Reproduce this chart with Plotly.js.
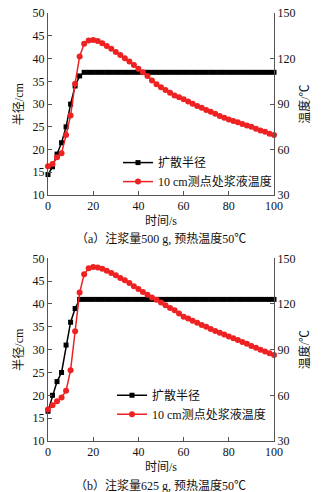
<!DOCTYPE html>
<html>
<head>
<meta charset="utf-8">
<script src="https://cdn.plot.ly/plotly-3.0.1.min.js"></script>
<style>html,body{margin:0;padding:0;background:#fff;}#chart{width:321px;height:492px;}</style>
</head>
<body>
<div id="chart"></div>
<script>
var time = [0,2,4,6,8,10,12,14,16,18,20,22,24,26,28,30,32,34,36,38,40,42,44,46,48,50,52,54,56,58,60,62,64,66,68,70,72,74,76,78,80,82,84,86,88,90,92,94,96,98,100];

// (a) 500 g
var radiusA = [14.5,16.2,19.0,21.5,25.0,30.0,34.0,36.2,37.0,37,37,37,37,37,37,37,37,37,37,37,37,37,37,37,37,37,37,37,37,37,37,37,37,37,37,37,37,37,37,37,37,37,37,37,37,37,37,37,37,37,37];
var tempA = [48.9,50.4,54.9,57.6,69.6,82.5,103.5,121.5,129.9,132.0,132.3,131.7,130.2,128.4,126.6,124.5,122.4,120.3,118.2,115.8,113.4,111.0,108.6,105.6,103.2,101.1,99.3,97.5,95.7,94.5,93.3,91.8,90.3,88.8,87.6,86.1,84.9,83.7,82.2,81.0,79.8,78.9,78.0,76.8,75.9,75.0,73.8,72.6,71.7,70.5,69.6];

// (b) 625 g
var radiusB = [16.5,20.0,23.0,25.0,31.0,36.0,39.0,41.0,41,41,41,41,41,41,41,41,41,41,41,41,41,41,41,41,41,41,41,41,41,41,41,41,41,41,41,41,41,41,41,41,41,41,41,41,41,41,41,41,41,41,41];
var tempB = [50.7,53.4,56.1,58.5,63.0,76.5,102.0,127.5,139.5,143.4,144.3,144.0,143.1,141.9,140.4,138.9,137.1,135.6,133.8,131.7,129.9,127.8,126.0,124.2,122.7,120.9,119.1,117.3,115.8,113.7,111.6,110.4,108.9,107.7,106.2,105.0,103.5,102.3,101.1,99.9,98.7,97.5,96.3,95.1,93.9,92.4,91.2,90.0,88.8,87.6,86.4];

var seriesNames = ['扩散半径', '10 cm测点处浆液温度'];
var xTicks = [0,20,40,60,80,100];
var captions = ['（a）注浆量500 g, 预热温度50℃', '（b）注浆量625 g, 预热温度50℃'];

var FONT = 'Liberation Serif, Times New Roman, Noto Sans CJK SC, serif';
var AXC = '#555';

function radTrace(y, xa, ya, leg, show) {
  return {x: time, y: y, xaxis: xa, yaxis: ya, name: seriesNames[0], legend: leg, showlegend: show,
    mode: 'lines+markers', cliponaxis: false,
    line: {color: '#000', width: 1.5}, marker: {symbol: 'square', size: 5, color: '#000'}};
}
function tmpTrace(y, xa, ya, leg, show) {
  return {x: time, y: y, xaxis: xa, yaxis: ya, name: seriesNames[1], legend: leg, showlegend: show,
    mode: 'lines+markers', cliponaxis: false,
    line: {color: '#ee2222', width: 1.5}, marker: {symbol: 'circle', size: 6, color: '#ee2222'}};
}

var data = [
  radTrace(radiusA, 'x', 'y', 'legend', true),
  tmpTrace(tempA, 'x', 'y2', 'legend', true),
  radTrace(radiusB, 'x2', 'y3', 'legend2', true),
  tmpTrace(tempB, 'x2', 'y4', 'legend2', true)
];

var xd = [0.1495, 0.8536];
function xax(anchor) {
  return {domain: xd, anchor: anchor, range: [0, 100], tickvals: xTicks, ticks: 'inside', ticklen: 4,
    tickcolor: AXC, showline: true, linecolor: AXC, linewidth: 1, showgrid: false, zeroline: false,
    tickfont: {family: FONT, size: 12, color: '#111'},
    title: {text: '时间/s', font: {family: FONT, size: 12, color: '#111'}, standoff: 4}};
}
function yl(domain, anchor) {
  return {domain: domain, anchor: anchor, range: [10, 50], dtick: 5, tick0: 10, ticks: 'inside', ticklen: 4,
    tickcolor: AXC, showline: true, linecolor: AXC, linewidth: 1, showgrid: false, zeroline: false,
    tickfont: {family: FONT, size: 12, color: '#111'},
    title: {text: '半径/cm', font: {family: FONT, size: 12, color: '#111'}, standoff: 6}};
}
function yr(over, anchor) {
  return {overlaying: over, anchor: anchor, side: 'right', range: [30, 150], dtick: 30, tick0: 30,
    ticks: 'inside', ticklen: 4, tickcolor: AXC, showline: true, linecolor: AXC, linewidth: 1,
    showgrid: false, zeroline: false, tickfont: {family: FONT, size: 12, color: '#111'},
    title: {text: '温度/℃', font: {family: FONT, size: 12, color: '#111'}, standoff: 6}};
}

var legStyle = {font: {family: FONT, size: 12, color: '#111'}, bgcolor: 'rgba(0,0,0,0)', borderwidth: 0,
  xanchor: 'left', yanchor: 'top', tracegroupgap: 0, itemwidth: 30};

var layout = {
  width: 321, height: 492,
  margin: {l: 0, r: 0, t: 0, b: 0},
  paper_bgcolor: '#fff', plot_bgcolor: '#fff',
  showlegend: true,
  font: {family: FONT, size: 12, color: '#111'},
  xaxis: xax('y'),
  yaxis: yl([0.6037, 0.973], 'x'),
  yaxis2: yr('y', 'x'),
  xaxis2: xax('y3'),
  yaxis3: yl([0.1037, 0.475], 'x2'),
  yaxis4: yr('y3', 'x2'),
  legend: Object.assign({x: 0.3676, y: 0.699}, legStyle),
  legend2: Object.assign({x: 0.349, y: 0.2262}, legStyle),
  annotations: [
    {text: captions[0], xref: 'paper', yref: 'paper', x: 0.5, y: 1 - 238 / 492, xanchor: 'center', yanchor: 'middle',
      showarrow: false, font: {family: FONT, size: 12, color: '#111'}},
    {text: captions[1], xref: 'paper', yref: 'paper', x: 0.5, y: 1 - 485 / 492, xanchor: 'center', yanchor: 'middle',
      showarrow: false, font: {family: FONT, size: 12, color: '#111'}}
  ]
};

Plotly.newPlot('chart', data, layout, {displayModeBar: false, staticPlot: true});
</script>
</body>
</html>
